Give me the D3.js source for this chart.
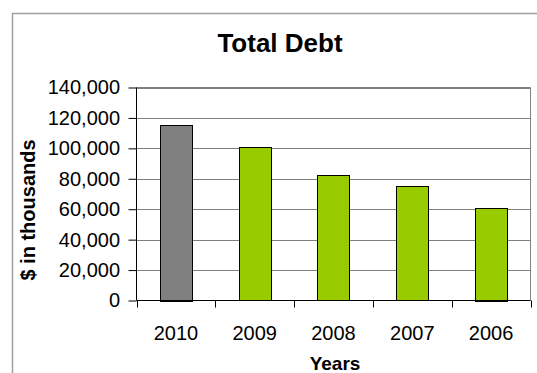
<!DOCTYPE html>
<html><head><meta charset="utf-8">
<script src="https://cdn.jsdelivr.net/npm/d3@7"></script>
<style>html,body{margin:0;padding:0;background:#fff;}svg{display:block;font-family:"Liberation Sans",Arial,sans-serif;}</style>
</head><body>
<script>
const categories = ["2010","2009","2008","2007","2006"];
const values = [115500, 100800, 82400, 75000, 61000];
const barColors = ["#808080","#99cc00","#99cc00","#99cc00","#99cc00"];
const yTicks = [0,20000,40000,60000,80000,100000,120000,140000];
const title = "Total Debt";
const xTitle = "Years";
const yTitle = "$ in thousands";

const W = 537, H = 373;
const FONT = "Liberation Sans, Arial, sans-serif";
const svg = d3.select("body").append("svg").attr("width", W).attr("height", H);

// outer chart border
svg.append("rect").attr("x", 12.5).attr("y", 13.5).attr("width", 560).attr("height", 400)
  .attr("fill", "none").attr("stroke", "#a0a0a0").attr("stroke-width", 1.5);

const L = 136.5, R = 530.5, T = 87.5, B = 300.5;
const x = d3.scaleBand().domain(categories).range([L, R]).paddingInner(0.59).paddingOuter(0.295);
const xb = d3.scaleBand().domain(categories).range([L, R]);
const y = d3.scaleLinear().domain([0, 140000]).range([B, T]);

// plot area frame (top, right)
svg.append("path").attr("d", `M${L},${T}H${R}V${B}`).attr("fill","none").attr("stroke","#808080");

// gridlines
svg.append("g").selectAll("line").data(yTicks.filter(d => d > 0)).join("line")
  .attr("x1", L).attr("x2", R).attr("y1", d => Math.round(y(d)) + 0.5).attr("y2", d => Math.round(y(d)) + 0.5)
  .attr("stroke", "#808080").attr("stroke-width", 1);

// bars
svg.append("g").selectAll("rect").data(categories).join("rect")
  .attr("x", d => Math.round(x(d)) + 0.5).attr("width", Math.round(x.bandwidth()))
  .attr("y", (d,i) => Math.round(y(values[i])) + 0.5)
  .attr("height", (d,i) => Math.round(B - y(values[i])))
  .attr("fill", (d,i) => barColors[i]).attr("stroke", "#000").attr("stroke-width", 1);

// y axis
const yAxis = svg.append("g").attr("transform", `translate(${L},0)`)
  .call(d3.axisLeft(y).tickValues(yTicks).tickFormat(d3.format(",")).tickSize(8).tickPadding(8.5));
yAxis.select(".domain").attr("stroke", "#000").attr("d", `M0,${T}V${B}`);
yAxis.selectAll(".tick line").attr("stroke", "#000");
yAxis.selectAll("text").attr("font-size", 20).attr("fill", "#000").attr("font-family", FONT);

// x axis
const xAxis = svg.append("g").attr("transform", `translate(0,${B})`)
  .call(d3.axisBottom(xb).tickSize(0));
xAxis.select(".domain").attr("stroke", "#000").attr("d", `M${L},0H${R}`);
xAxis.selectAll("text").attr("font-size", 20).attr("fill", "#000").attr("font-family", FONT)
  .attr("y", 39).attr("dy", null);
// boundary tick marks
const bounds = categories.map(c => xb(c)).concat([R]);
svg.append("g").selectAll("line").data(bounds).join("line")
  .attr("x1", d => Math.round(d) + 0.5).attr("x2", d => Math.round(d) + 0.5)
  .attr("y1", B).attr("y2", B + 7).attr("stroke", "#000");

// titles
svg.append("text").attr("x", 280).attr("y", 52).attr("text-anchor", "middle")
  .attr("font-size", 26).attr("font-weight", "bold").text(title);
svg.append("text").attr("x", 335).attr("y", 370).attr("text-anchor", "middle")
  .attr("font-size", 19).attr("font-weight", "bold").text(xTitle);
svg.append("text").attr("transform", "translate(34.5,210) rotate(-90)").attr("text-anchor", "middle")
  .attr("font-size", 20).attr("font-weight", "bold").text(yTitle);
</script>
</body></html>
